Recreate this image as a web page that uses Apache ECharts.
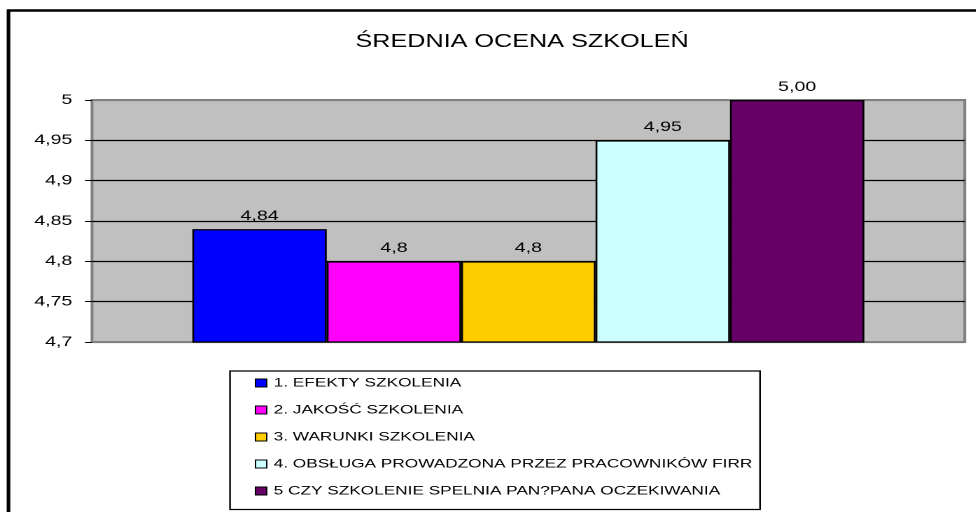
<!DOCTYPE html>
<html>
<head>
<meta charset="utf-8">
<script src="https://cdn.jsdelivr.net/npm/echarts@6/dist/echarts.min.js"></script>
<style>
html,body{margin:0;padding:0;background:#fff;overflow:hidden;}
#wrap{width:976px;height:512px;overflow:hidden;position:relative;}
#chart{width:697.142857px;height:512px;transform:scaleX(1.4);transform-origin:0 0;position:absolute;left:0;top:0;}
</style>
</head>
<body>
<div id="wrap"><div id="chart"></div></div>
<script>
var titleText = 'ŚREDNIA OCENA SZKOLEŃ';
var seriesNames = [
  '1. EFEKTY SZKOLENIA',
  '2. JAKOŚĆ SZKOLENIA',
  '3. WARUNKI SZKOLENIA',
  '4. OBSŁUGA PROWADZONA PRZEZ PRACOWNIKÓW FIRR',
  '5 CZY SZKOLENIE SPELNIA PAN?PANA OCZEKIWANIA'
];
var values = [4.84, 4.8, 4.8, 4.95, 5.0];
var valueLabels = ['4,84', '4,8', '4,8', '4,95', '5,00'];
var colors = ['#0000FF', '#FF00FF', '#FFCC00', '#CCFFFF', '#660066'];
var yTickLabels = ['4,7', '4,75', '4,8', '4,85', '4,9', '4,95', '5'];
var yMin = 4.7, yMax = 5.0, yStep = 0.05;

var FONT = '"Liberation Sans", Arial, sans-serif';
var chart = echarts.init(document.getElementById('chart'), null, {renderer: 'canvas', devicePixelRatio: 2});

var series = seriesNames.map(function (name, i) {
  return {
    name: name,
    type: 'bar',
    data: [values[i]],
    barGap: '0%',
    barCategoryGap: '23%',
    itemStyle: {color: colors[i], borderColor: '#000', borderWidth: 1.3},
    label: {
      show: true, position: 'top', distance: 6,
      color: '#000', fontSize: 14, fontFamily: FONT,
      formatter: function () { return valueLabels[i]; }
    }
  };
});

chart.setOption({
  animation: false,
  backgroundColor: '#fff',
  title: {
    text: titleText,
    left: 372.9, top: 33, textAlign: 'center', padding: 0,
    textStyle: {fontSize: 18, fontWeight: 'normal', color: '#000', fontFamily: FONT}
  },
  grid: {
    left: 65.7, right: 7.9, top: 100, bottom: 170,
    show: true, backgroundColor: '#C0C0C0', borderColor: '#808080', borderWidth: 2
  },
  xAxis: {
    type: 'category', data: [''],
    axisLine: {show: false}, axisTick: {show: false}, axisLabel: {show: false},
    splitLine: {show: false}
  },
  yAxis: {
    type: 'value', min: yMin, max: yMax, interval: yStep,
    axisLine: {show: false},
    axisTick: {show: true, length: 5, lineStyle: {color: '#000', width: 1}},
    axisLabel: {
      margin: 14, color: '#000', fontSize: 14, fontFamily: FONT,
      formatter: function (v, idx) { return yTickLabels[idx]; }
    },
    splitLine: {show: true, lineStyle: {width: 1.3, color: ['#808080', '#000', '#000', '#000', '#000', '#000', '#808080']}}
  },
  legend: {
    orient: 'vertical', left: 182, top: 376, padding: 0,
    itemGap: 13, itemWidth: 8, itemHeight: 8, icon: 'rect',
    data: seriesNames,
    textStyle: {fontSize: 12.3, color: '#000', fontFamily: FONT, lineHeight: 14},
    itemStyle: {borderColor: '#000', borderWidth: 1}
  },
  graphic: [
    {type: 'rect', z: -10, silent: true,
     shape: {x: 6.07, y: 10.5, width: 720, height: 600},
     style: {fill: 'none', stroke: '#000', lineWidth: 2.6}},
    {type: 'rect', z: -5, silent: true,
     shape: {x: 164.3, y: 371, width: 378.6, height: 138.5},
     style: {fill: '#fff', stroke: '#000', lineWidth: 1.2}}
  ],
  series: series
});
</script>
</body>
</html>
